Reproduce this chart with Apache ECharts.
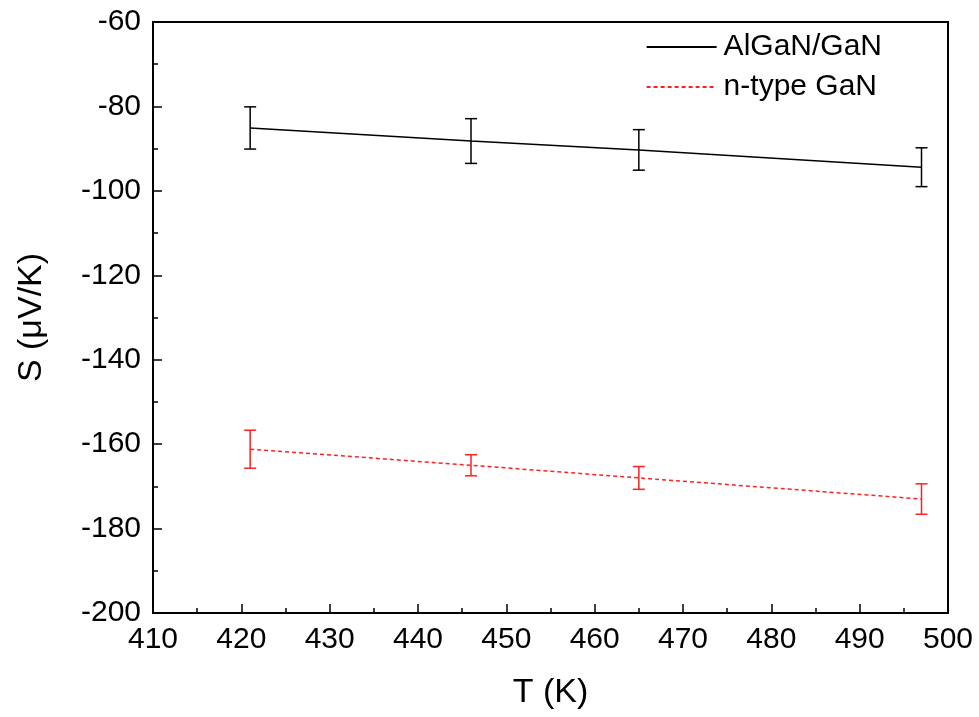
<!DOCTYPE html>
<html>
<head>
<meta charset="utf-8">
<script src="https://cdn.jsdelivr.net/npm/echarts@6/dist/echarts.min.js"></script>
<style>
  html, body { margin: 0; padding: 0; background: #fff; }
  #main { width: 979px; height: 717px; }
</style>
</head>
<body>
<div id="main"></div>
<script>
// temperatures (K)
var temps = [421, 446, 465, 497];
// AlGaN/GaN Seebeck coefficient and error
var algan = [-85.1, -88.2, -90.3, -94.4];
var alganErr = [5.0, 5.3, 4.8, 4.6];
// n-type GaN Seebeck coefficient and error
var ngan = [-161.2, -165.0, -168.0, -173.0];
var nganErr = [4.5, 2.5, 2.7, 3.6];

var xTicks = [410, 420, 430, 440, 450, 460, 470, 480, 490, 500];
var yTicks = [-200, -180, -160, -140, -120, -100, -80, -60];

var FONT = 'Liberation Sans, Arial, sans-serif';

function pairs(xs, ys) {
  return xs.map(function (x, i) { return [x, ys[i]]; });
}
function errData(xs, ys, es) {
  return xs.map(function (x, i) { return [x, ys[i] - es[i], ys[i] + es[i]]; });
}
function errBars(color) {
  return function (params, api) {
    var lo = api.coord([api.value(0), api.value(1)]);
    var hi = api.coord([api.value(0), api.value(2)]);
    var w = 6;
    var style = { stroke: color, lineWidth: 1.5 };
    return {
      type: 'group',
      children: [
        { type: 'line', shape: { x1: lo[0], y1: lo[1], x2: hi[0], y2: hi[1] }, style: style },
        { type: 'line', shape: { x1: lo[0] - w, y1: lo[1], x2: lo[0] + w, y2: lo[1] }, style: style },
        { type: 'line', shape: { x1: hi[0] - w, y1: hi[1], x2: hi[0] + w, y2: hi[1] }, style: style }
      ]
    };
  };
}

var myChart = echarts.init(document.getElementById('main'));
var axisCommon = {
  axisLine: { show: true, lineStyle: { color: '#000', width: 2 } },
  axisTick: { show: true, inside: true, length: 9, lineStyle: { color: '#000', width: 1.5 } },
  minorTick: { show: true, splitNumber: 2, length: 5, lineStyle: { color: '#000', width: 1.5 } },
  splitLine: { show: false },
  axisLabel: { color: '#000', fontSize: 30, fontFamily: FONT, margin: 12 },
  nameTextStyle: { color: '#000', fontSize: 34, fontFamily: FONT }
};

var option = {
  backgroundColor: '#fff',
  animation: false,
  grid: {
    left: 153, right: 31, top: 22, bottom: 104,
    show: true, borderColor: '#000', borderWidth: 2
  },
  legend: {
    orient: 'vertical',
    right: 92,
    top: 27,
    itemWidth: 70,
    itemHeight: 10,
    itemGap: 10,
    itemStyle: { opacity: 0 },
    textStyle: { color: '#000', fontSize: 30, fontFamily: FONT, padding: [0, 0, 0, 2] },
    data: ['AlGaN/GaN', 'n-type GaN']
  },
  xAxis: Object.assign({}, axisCommon, {
    type: 'value',
    min: 410, max: 500, interval: 10,
    name: 'T (K)', nameLocation: 'middle', nameGap: 63,
    axisLabel: Object.assign({}, axisCommon.axisLabel, {
      customValues: xTicks
    })
  }),
  yAxis: Object.assign({}, axisCommon, {
    type: 'value',
    min: -200, max: -60, interval: 20,
    name: 'S (\u03bcV/K)', nameLocation: 'middle', nameGap: 104,
    axisLabel: Object.assign({}, axisCommon.axisLabel, {
      customValues: yTicks
    })
  }),
  series: [
    {
      name: 'AlGaN/GaN', type: 'line', data: pairs(temps, algan),
      symbol: 'none', itemStyle: { color: '#000' },
      lineStyle: { color: '#000', width: 1.5 }, z: 3
    },
    {
      name: 'n-type GaN', type: 'line', data: pairs(temps, ngan),
      symbol: 'none', itemStyle: { color: '#ff2020' },
      lineStyle: { color: '#ff2020', width: 1.5, type: [4, 3] }, z: 3
    },
    {
      type: 'custom', data: errData(temps, algan, alganErr),
      renderItem: errBars('#000'), encode: { x: 0, y: [1, 2] }, z: 4
    },
    {
      type: 'custom', data: errData(temps, ngan, nganErr),
      renderItem: errBars('#ff2020'), encode: { x: 0, y: [1, 2] }, z: 4
    }
  ]
};
myChart.setOption(option);
</script>
</body>
</html>
